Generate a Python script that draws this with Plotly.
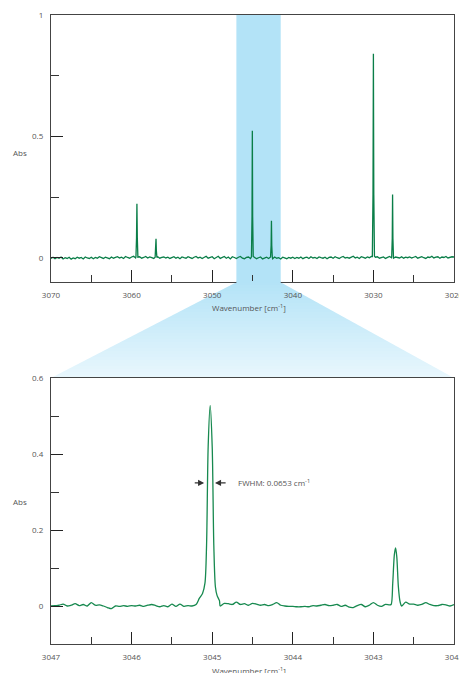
import numpy as np
import plotly.graph_objects as go

# ---------------- data ----------------
# Top (full) spectrum: baseline noise sampled every 0.25 cm-1 from 3070 down to 3020
top_base_x = [3070 - 0.25 * i for i in range(201)]
top_base_y = [
    -0.003, 0.002, -0.004, 0.001, -0.002, 0.003, -0.005, 0.0, -0.003, 0.002, -0.006, -0.001, -0.004, 0.002, -0.002, 0.001, -0.005, 0.003, -0.001, -0.003,
    0.002, -0.004, 0.001, -0.002, 0.004, -0.001, -0.003, 0.002, 0.000, -0.004, 0.003, -0.002, 0.001, 0.004, -0.001, 0.002, -0.003, 0.005, 0.001, -0.002,
    0.003, 0.006, -0.001, 0.002, 0.004, -0.002, 0.001, 0.005, -0.001, 0.003, 0.0, -0.003, 0.002, 0.004, -0.002, 0.001, 0.003, -0.001, 0.002, -0.003,
    0.001, 0.004, -0.002, 0.002, -0.004, 0.003, 0.0, -0.002, 0.004, 0.001, -0.003, 0.002, 0.005, -0.001, 0.002, -0.003, 0.003, 0.006, -0.002, 0.001,
    0.004, -0.004, 0.002, 0.006, -0.003, 0.001, 0.005, -0.002, 0.003, -0.005, 0.004, 0.001, -0.003, 0.002, 0.005, -0.002, -0.004, 0.001, 0.003, -0.003,
    -0.001, 0.002, -0.004, 0.0, 0.003, -0.005, -0.002, 0.002, -0.003, 0.001, -0.004, 0.003, -0.002, 0.0, -0.005, 0.002, -0.001, -0.004, 0.001, -0.002,
    0.002, -0.003, 0.001, -0.002, 0.003, -0.004, 0.0, 0.002, -0.003, 0.004, -0.001, 0.001, -0.003, 0.003, 0.0, -0.002, 0.002, -0.004, 0.001, 0.003,
    -0.002, 0.004, 0.0, -0.003, 0.002, 0.005, -0.001, 0.001, -0.002, 0.003, 0.006, -0.001, 0.002, -0.003, 0.004, 0.001, -0.002, 0.003, 0.0, 0.005,
    -0.001, 0.002, 0.004, -0.002, 0.001, 0.003, -0.003, 0.002, 0.005, 0.0, -0.002, 0.003, 0.001, -0.001, 0.004, -0.002, 0.002, 0.0, 0.003, -0.001,
    0.002, 0.005, -0.002, 0.001, 0.004, 0.0, -0.003, 0.003, 0.001, 0.006, -0.001, 0.002, 0.004, -0.002, 0.003, 0.001, 0.005, -0.001, 0.002, 0.004, 0.003,
]
# Top spectrum absorption lines
top_peaks = [
    ([3059.46, 3059.39, 3059.34, 3059.29, 3059.22], [0.003, 0.08, 0.222, 0.08, 0.002]),
    ([3057.08, 3057.01, 3056.97, 3056.93, 3056.86], [0.002, 0.03, 0.078, 0.03, 0.001]),
    ([3045.13, 3045.06, 3045.02, 3044.98, 3044.91], [0.004, 0.17, 0.523, 0.17, 0.005]),
    ([3042.76, 3042.69, 3042.65, 3042.61, 3042.54], [0.003, 0.05, 0.152, 0.05, 0.002]),
    ([3030.13, 3030.05, 3030.00, 3029.95, 3029.87], [0.005, 0.26, 0.840, 0.26, 0.006]),
    ([3027.73, 3027.66, 3027.62, 3027.58, 3027.51], [0.003, 0.08, 0.260, 0.08, 0.002]),
]

# Bottom (zoomed) spectrum: baseline sampled every 0.05 cm-1 from 3047 down to 3042
bot_base_x = [3047 - 0.05 * i for i in range(101)]
bot_base_y = [
    0.0, 0.001, 0.002, 0.005, 0.0, 0.002, 0.006, 0.001, 0.004, 0.0,
    0.009, 0.002, 0.003, 0.0, -0.004, -0.007, 0.0, -0.001, 0.001, -0.001,
    0.001, 0.0, 0.002, -0.001, 0.002, 0.004, 0.001, -0.002, 0.001, -0.002,
    0.005, -0.001, 0.005, -0.001, 0.001, 0.0, 0.004, 0.022, 0.03, 0.0,
    0.0, 0.0, 0.0, 0.007, 0.006, 0.004, 0.010, 0.004, 0.006, 0.002,
    0.007, 0.005, 0.002, 0.004, 0.001, 0.004, 0.009, 0.002, 0.0, -0.001,
    -0.001, -0.002, -0.002, -0.001, -0.002, 0.001, 0.0, 0.002, 0.004, 0.001,
    0.002, 0.004, -0.001, 0.002, -0.003, -0.004, 0.001, 0.004, -0.002, 0.002,
    0.009, 0.002, -0.001, 0.004, 0.003, 0.0, 0.0, 0.0, 0.010, 0.005,
    0.005, 0.002, 0.004, 0.009, 0.004, 0.001, 0.001, 0.004, 0.003, 0.0,
    0.004,
]
bot_peaks = [
    ([3045.16, 3045.12, 3045.09, 3045.07, 3045.05, 3045.025, 3045.00, 3044.98, 3044.96, 3044.94, 3044.91],
     [0.020, 0.033, 0.06, 0.16, 0.42, 0.528, 0.42, 0.16, 0.05, 0.028, 0.014]),
    ([3042.78, 3042.76, 3042.74, 3042.725, 3042.71, 3042.69, 3042.67],
     [0.004, 0.06, 0.135, 0.153, 0.13, 0.05, 0.012]),
]

top_xticks = [3070, 3060, 3050, 3040, 3030, 3020]
bot_xticks = [3047, 3046, 3045, 3044, 3043, 3042]
zoom_window = (3047, 3041.5)
fwhm_label = "FWHM: 0.0653 cm<sup>-1</sup>"


def merge(base_x, base_y, peaks):
    pts = []
    for x, y in zip(base_x, base_y):
        if any(min(px) <= x <= max(px) for px, _ in peaks):
            continue
        pts.append((x, y))
    for px, py in peaks:
        pts.extend(zip(px, py))
    pts.sort(key=lambda p: -p[0])
    return [p[0] for p in pts], [p[1] for p in pts]


tx, ty = merge(top_base_x, top_base_y, top_peaks)
bx, by = merge(bot_base_x, bot_base_y, bot_peaks)

# ---------------- layout geometry (page pixels) ----------------
W, H = 459, 673
P_LEFT, P_RIGHT, P_TOP, P_BOTTOM = 51, 454, 15, 644   # plot area
ML, MT, MR, MB = P_LEFT, P_TOP, W - P_RIGHT, H - P_BOTTOM
PW = P_RIGHT - P_LEFT
PH = P_BOTTOM - P_TOP


def pxx(px):
    return (px - P_LEFT) / PW


def pxy(py):
    return (P_BOTTOM - py) / PH


TOP_Y0, TOP_Y1 = 282, 15
BOT_Y0, BOT_Y1 = 644, 378

FONT = "Open Sans"
TXT = "#555555"
GREEN_TOP = "#0a7e48"
GREEN_BOT = "#17894f"
BAND = "#b3e3f7"

fig = go.Figure()
fig.add_trace(go.Scatter(x=tx, y=ty, mode="lines", line=dict(color=GREEN_TOP, width=1.3),
                         xaxis="x", yaxis="y", showlegend=False, hoverinfo="skip"))
fig.add_trace(go.Scatter(x=bx, y=by, mode="lines", line=dict(color=GREEN_BOT, width=1.3, shape="spline", smoothing=0.8),
                         xaxis="x2", yaxis="y2", showlegend=False, hoverinfo="skip"))

axis_common = dict(showgrid=False, zeroline=False, showline=True, linecolor="#444444", linewidth=1.3,
                   mirror=True, ticks="inside", ticklen=12, tickwidth=1.2, tickcolor="#222222",
                   tickfont=dict(family=FONT, size=8, color=TXT), ticklabelstandoff=5, automargin=False,
                   ticklabeloverflow="allow")

shapes = []
# band in top plot
shapes.append(dict(type="rect", xref="x", yref="y", x0=zoom_window[0], x1=zoom_window[1], y0=-0.1, y1=1,
                   fillcolor=BAND, line=dict(width=0), layer="below"))
# hide axis line inside band
shapes.append(dict(type="rect", xref="x", yref="paper", x0=zoom_window[0], x1=zoom_window[1],
                   y0=pxy(283.4), y1=pxy(281.0), fillcolor=BAND, line=dict(width=0), layer="above"))
# gradient trapezoid (slices)
n = 32
c0 = np.array([179, 227, 247])
c1 = np.array([233, 247, 253])
lx0, rx0 = 237.0, 280.0
lx1, rx1 = float(P_LEFT), float(P_RIGHT)
for k in range(n):
    ya = TOP_Y0 + (BOT_Y1 - TOP_Y0) * k / n
    yb = TOP_Y0 + (BOT_Y1 - TOP_Y0) * (k + 1) / n + 0.6
    yb = min(yb, BOT_Y1)
    ta = (ya - TOP_Y0) / (BOT_Y1 - TOP_Y0)
    tb = (yb - TOP_Y0) / (BOT_Y1 - TOP_Y0)
    la, ra = lx0 + (lx1 - lx0) * ta, rx0 + (rx1 - rx0) * ta
    lb, rb = lx0 + (lx1 - lx0) * tb, rx0 + (rx1 - rx0) * tb
    c = c0 + (c1 - c0) * ((k + 0.5) / n)
    col = "rgb(%d,%d,%d)" % tuple(int(round(v)) for v in c)
    path = "M %f %f L %f %f L %f %f L %f %f Z" % (pxx(la), pxy(ya), pxx(ra), pxy(ya), pxx(rb), pxy(yb), pxx(lb), pxy(yb))
    shapes.append(dict(type="path", xref="paper", yref="paper", path=path, fillcolor=col,
                       line=dict(width=0), layer="below"))

lbl = dict(xref="paper", yref="paper", showarrow=False, xanchor="center", yanchor="middle",
           font=dict(family=FONT, size=8, color=TXT))
annotations = [
    dict(text="Abs", x=pxx(20), y=pxy(152), **lbl),
    dict(text="Abs", x=pxx(20), y=pxy(501), **lbl),
    dict(text="Wavenumber [cm<sup>-1</sup>]", x=pxx(249), y=pxy(307), **lbl),
    dict(text="Wavenumber [cm<sup>-1</sup>]", x=pxx(249), y=pxy(670.5), **lbl),
    dict(text=fwhm_label, xref="x2", yref="y2", x=3044.70, y=0.324, xanchor="left", yanchor="middle",
         showarrow=False, font=dict(family=FONT, size=8, color=TXT)),
    dict(text="", xref="x2", yref="y2", x=3045.10, y=0.324, axref="x2", ayref="y2", ax=3045.235, ay=0.324,
         showarrow=True, arrowhead=2, arrowsize=1.1, arrowwidth=1.1, arrowcolor="#333333", standoff=0),
    dict(text="", xref="x2", yref="y2", x=3044.965, y=0.324, axref="x2", ayref="y2", ax=3044.815, ay=0.324,
         showarrow=True, arrowhead=2, arrowsize=1.1, arrowwidth=1.1, arrowcolor="#333333", standoff=0),
]

fig.update_layout(
    width=W, height=H,
    margin=dict(l=ML, r=MR, t=MT, b=MB, pad=0),
    paper_bgcolor="white", plot_bgcolor="rgba(0,0,0,0)",
    showlegend=False,
    xaxis=dict(domain=[0, 1], anchor="y", range=[top_xticks[0], top_xticks[-1]], tickvals=top_xticks,
               minor=dict(dtick=5, tick0=3070, ticks="inside", ticklen=7, tickwidth=1.2, tickcolor="#333333"),
               **axis_common),
    yaxis=dict(domain=[pxy(TOP_Y0), pxy(TOP_Y1)], anchor="x", range=[-0.1, 1], tickvals=[0, 0.5, 1],
               minor=dict(dtick=0.25, tick0=0, ticks="inside", ticklen=8, tickwidth=1.2, tickcolor="#333333"),
               **axis_common),
    xaxis2=dict(domain=[0, 1], anchor="y2", range=[bot_xticks[0], bot_xticks[-1]], tickvals=bot_xticks,
                minor=dict(dtick=0.5, tick0=3047, ticks="inside", ticklen=7, tickwidth=1.2, tickcolor="#333333"),
                **axis_common),
    yaxis2=dict(domain=[pxy(BOT_Y0), pxy(BOT_Y1)], anchor="x2", range=[-0.1, 0.6], tickvals=[0, 0.2, 0.4, 0.6],
                minor=dict(dtick=0.1, tick0=0, ticks="inside", ticklen=8, tickwidth=1.2, tickcolor="#333333"),
                **axis_common),
    shapes=shapes,
    annotations=annotations,
)

# page without the default body margin / scrollbars so the 459x673 figure fills the window
page_css = ("document.body.style.margin='0';document.body.style.overflow='hidden';"
            "document.documentElement.style.overflow='hidden';")
fig.write_html("out.html", post_script=page_css, config={"displayModeBar": False})
